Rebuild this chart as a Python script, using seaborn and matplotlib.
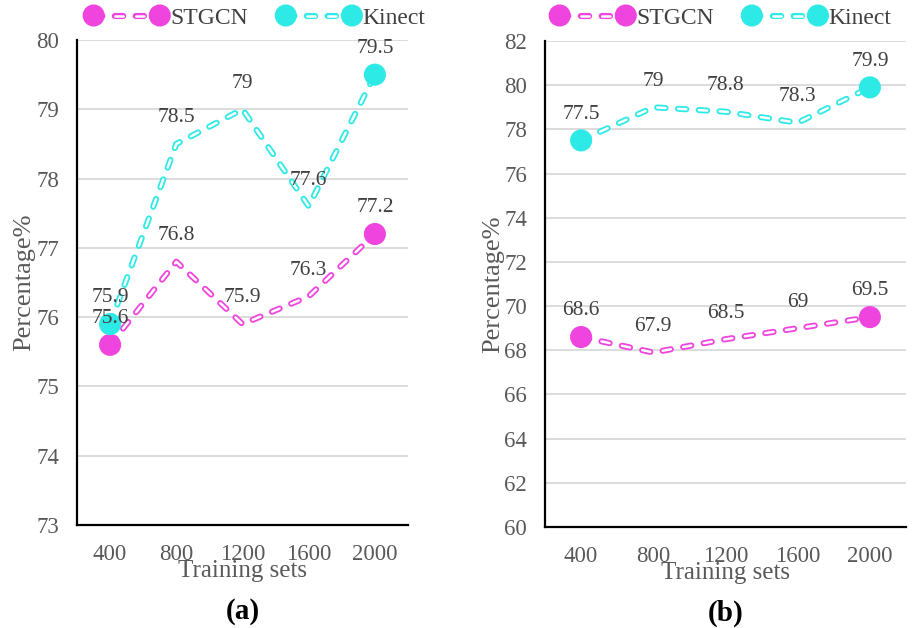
import matplotlib
matplotlib.use("Agg")
import matplotlib.pyplot as plt
import matplotlib.patheffects as pe
from matplotlib.lines import Line2D
import seaborn as sns

train_sizes = ["400", "800", "1200", "1600", "2000"]

stgcn_a = [75.6, 76.8, 75.9, 76.3, 77.2]
kinect_a = [75.9, 78.5, 79.0, 77.6, 79.5]
stgcn_b = [68.6, 67.9, 68.5, 69.0, 69.5]
kinect_b = [77.5, 79.0, 78.8, 78.3, 79.9]

series_names = ["STGCN", "Kinect"]
colors = ["#F044DE", "#2EEAE6"]

sns.set_style("white")
plt.rcParams["font.family"] = ["Liberation Serif", "DejaVu Serif"]
plt.rcParams["lines.scale_dashes"] = False

fig = plt.figure(figsize=(9.15, 6.28), dpi=100)
ax_a = fig.add_axes([77 / 915, 1 - 525 / 628, 331 / 915, 485 / 628])
ax_b = fig.add_axes([545 / 915, 1 - 527 / 628, 361 / 915, 486 / 628])

tick_color = "#595959"
label_color = "#404040"
dash = (0, (6, 9))


def hollow(color):
    return [pe.Stroke(linewidth=4.4, foreground=color), pe.Normal()]


def draw_panel(ax, data, ylim, yticks, tag, ylabel_x, legend_xy):
    for vals, name, c in zip(data, series_names, colors):
        sns.lineplot(x=train_sizes, y=vals, ax=ax, color="white", lw=1.8,
                     dashes=False, linestyle=dash,
                     dash_capstyle="round", solid_capstyle="round",
                     marker="o", markevery=[0, len(vals) - 1], markersize=11.5,
                     markerfacecolor=c, markeredgecolor=c,
                     path_effects=hollow(c), label=name, legend=False)
        for i, v in enumerate(vals):
            ax.annotate(f"{v:g}", (i, v), xytext=(0, 12),
                        textcoords="offset points", ha="center", va="bottom",
                        fontsize=15.5, color=label_color)
    ax.set_xlim(-0.5, len(train_sizes) - 0.5)
    ax.set_ylim(*ylim)
    ax.set_yticks(yticks)
    ax.grid(axis="y", color="#D9D9D9", lw=1.3)
    ax.grid(axis="x", visible=False)
    for s in ["top", "right"]:
        ax.spines[s].set_visible(False)
    for s in ["left", "bottom"]:
        ax.spines[s].set_color("black")
        ax.spines[s].set_linewidth(1.6)
    ax.tick_params(axis="both", length=0, labelsize=16.5, labelcolor=tick_color)
    ax.tick_params(axis="x", pad=14)
    ax.tick_params(axis="y", pad=13)
    ax.set_xlabel("Training sets", fontsize=18, color=tick_color)
    ax.xaxis.set_label_coords(0.5, -0.072)
    ax.set_ylabel("Percentage%", fontsize=19, color=tick_color)
    ax.yaxis.set_label_coords(ylabel_x, 0.5)
    ax.text(0.5, -0.15, tag, transform=ax.transAxes, ha="center", va="top",
            fontsize=21, fontweight="bold", color="black")

    handles = [Line2D([0], [0], color="white", lw=1.8, linestyle=dash,
                      dash_capstyle="round", marker="o", markersize=11.5,
                      markerfacecolor=c, markeredgecolor=c,
                      path_effects=hollow(c)) for c in colors]
    fig.legend(handles, series_names, loc="center", bbox_to_anchor=legend_xy,
               bbox_transform=fig.transFigure, ncol=2, frameon=False,
               numpoints=2, handlelength=3.4, handletextpad=0.15,
               columnspacing=1.3, fontsize=17, labelcolor=label_color)


draw_panel(ax_a, [stgcn_a, kinect_a], (73, 80), range(73, 81), "(a)",
           -0.125, (256 / 915, 1 - 18 / 628))
draw_panel(ax_b, [stgcn_b, kinect_b], (60, 82), range(60, 83, 2), "(b)",
           -0.113, (722 / 915, 1 - 18 / 628))

fig.savefig("out.png", dpi=100)
